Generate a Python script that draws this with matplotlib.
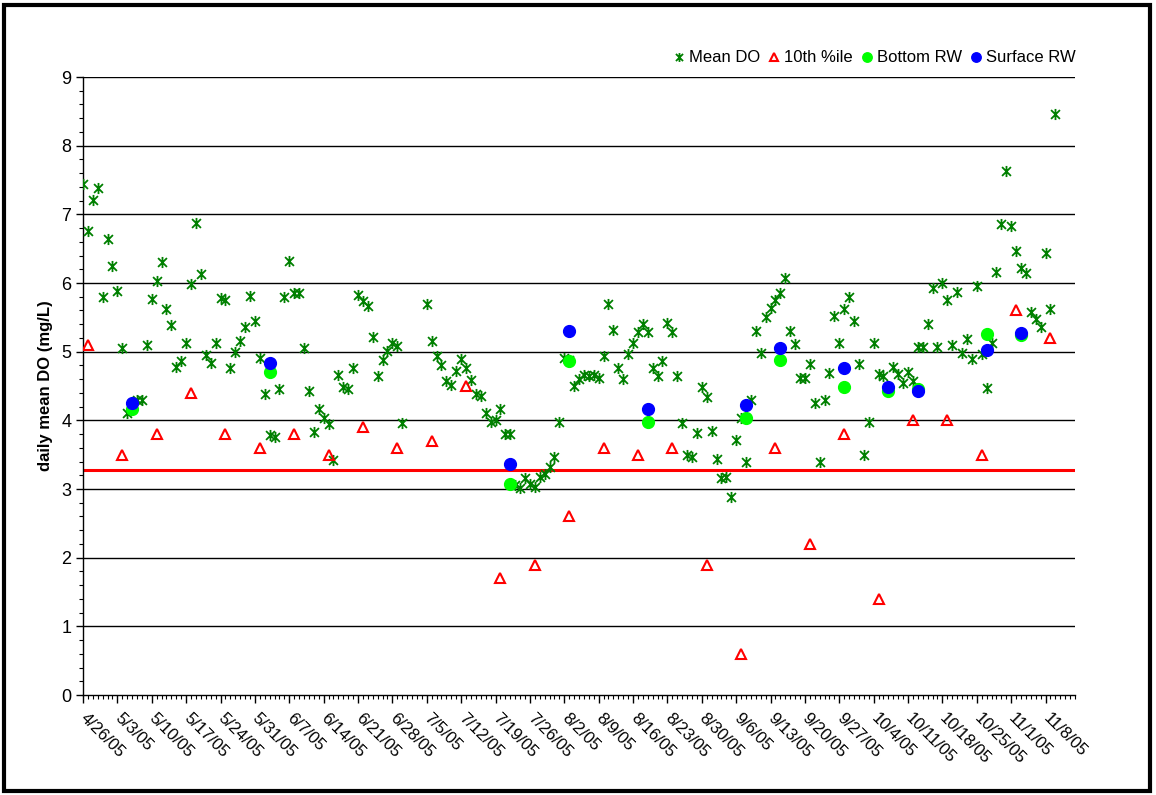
import matplotlib
matplotlib.use("Agg")
import matplotlib.pyplot as plt
import matplotlib.dates as mdates
from matplotlib.path import Path
from matplotlib.patches import Rectangle
from matplotlib.ticker import MultipleLocator
import pandas as pd

plt.rcParams['font.family'] = ['Liberation Sans', 'DejaVu Sans']

# daily mean DO, one value per day starting 4/26/05 (None = no data)
start_date = "2005-04-26"
mean_do = [
    7.44, 6.76, 7.21, 7.39, 5.80, 6.64, 6.25, 5.88, 5.06, 4.11,
    None, 4.30, 4.29, 5.09, 5.76, 6.03, 6.30, 5.62, 5.39, 4.78,
    4.86, 5.12, 5.98, 6.88, 6.13, 4.95, 4.83, 5.13, 5.78, 5.75,
    4.76, 4.99, 5.15, 5.36, 5.81, 5.44, 4.91, 4.39, 3.79, 3.76,
    4.46, 5.79, 6.32, 5.86, 5.86, 5.06, 4.42, 3.83, 4.17, 4.04,
    3.95, 3.42, 4.66, 4.49, 4.46, 4.76, 5.83, 5.74, 5.67, 5.21,
    4.64, 4.88, 5.01, 5.12, 5.08, 3.96, None, None, None, None,
    5.69, 5.16, 4.94, 4.80, 4.57, 4.52, 4.72, 4.89, 4.76, 4.59,
    4.39, 4.35, 4.10, 3.98, 4.00, 4.16, 3.80, 3.80, 3.06, 3.01,
    3.16, 3.07, 3.03, 3.18, 3.22, 3.32, 3.47, 3.97, 4.91, 4.88,
    4.50, 4.60, 4.66, 4.64, 4.66, 4.62, 4.93, 5.70, 5.31, 4.76,
    4.60, 4.96, 5.12, 5.28, 5.41, 5.28, 4.76, 4.65, 4.87, 5.42,
    5.29, 4.65, 3.96, 3.49, 3.47, 3.82, 4.49, 4.34, 3.84, 3.43,
    3.16, 3.18, 2.89, 3.71, 4.04, 3.40, 4.30, 5.30, 4.98, 5.51,
    5.64, 5.75, 5.86, 6.08, 5.30, 5.11, 4.61, 4.61, 4.82, 4.25,
    3.39, 4.30, 4.69, 5.52, 5.12, 5.62, 5.79, 5.44, 4.82, 3.50,
    3.97, 5.12, 4.67, 4.65, 4.46, 4.78, 4.67, 4.55, 4.70, 4.57,
    5.07, 5.07, 5.40, 5.92, 5.07, 6.00, 5.75, 5.10, 5.87, 4.98,
    5.18, 4.90, 5.96, 4.97, 4.47, 5.13, 6.16, 6.86, 7.63, 6.83,
    6.46, 6.22, 6.14, 5.58, 5.47, 5.36, 6.43, 5.62, 8.46,
]

pct10_dates = [
    "4/27/05", "5/4/05", "5/11/05", "5/18/05", "5/25/05", "6/1/05", "6/8/05",
    "6/15/05", "6/22/05", "6/29/05", "7/6/05", "7/13/05", "7/20/05", "7/27/05",
    "8/3/05", "8/10/05", "8/17/05", "8/24/05", "8/31/05", "9/7/05", "9/14/05",
    "9/21/05", "9/28/05", "10/5/05", "10/12/05", "10/19/05", "10/26/05",
    "11/2/05", "11/9/05",
]
pct10 = [5.1, 3.5, 3.8, 4.4, 3.8, 3.6, 3.8, 3.5, 3.9, 3.6, 3.7, 4.5, 1.7, 1.9,
         2.6, 3.6, 3.5, 3.6, 1.9, 0.6, 3.6, 2.2, 3.8, 1.4, 4.0, 4.0, 3.5, 5.6, 5.2]

rw_dates = ["5/6/05", "6/3/05", "7/22/05", "8/3/05", "8/19/05", "9/8/05",
            "9/15/05", "9/28/05", "10/7/05", "10/13/05", "10/27/05", "11/3/05"]
bottom_rw = [4.16, 4.70, 3.07, 4.86, 3.97, 4.04, 4.88, 4.49, 4.43, 4.45, 5.26, 5.25]
surface_rw = [4.25, 4.84, 3.36, 5.30, 4.17, 4.23, 5.05, 4.76, 4.48, 4.43, 5.02, 5.27]

threshold = 3.27

tick_labels = [
    "4/26/05", "5/3/05", "5/10/05", "5/17/05", "5/24/05", "5/31/05", "6/7/05",
    "6/14/05", "6/21/05", "6/28/05", "7/5/05", "7/12/05", "7/19/05", "7/26/05",
    "8/2/05", "8/9/05", "8/16/05", "8/23/05", "8/30/05", "9/6/05", "9/13/05",
    "9/20/05", "9/27/05", "10/4/05", "10/11/05", "10/18/05", "10/25/05",
    "11/1/05", "11/8/05",
]

mean_days = pd.date_range(start_date, periods=len(mean_do), freq="D")
mean_series = pd.Series(mean_do, index=mean_days, dtype=float).dropna()
pct_x = pd.to_datetime(pct10_dates, format="%m/%d/%y")
rw_x = pd.to_datetime(rw_dates, format="%m/%d/%y")
tick_x = pd.to_datetime(tick_labels, format="%m/%d/%y")

# Excel-style star marker: an X crossed by a vertical bar
star = Path([(-1, -1), (1, 1), (-1, 1), (1, -1), (0, -1.25), (0, 1.25)],
            [Path.MOVETO, Path.LINETO, Path.MOVETO, Path.LINETO,
             Path.MOVETO, Path.LINETO])

fig = plt.figure(figsize=(11.56, 7.95), dpi=100)
ax = fig.add_axes([83 / 1156, 1 - 695 / 795, (1075 - 83) / 1156, (695 - 77) / 795])

for v in range(1, 10):
    ax.axhline(v, color="black", lw=1.0, zorder=1)
ax.axhline(threshold, color="red", lw=2.2, zorder=2)

ax.plot(mean_series.index, mean_series.values, linestyle="none", marker=star,
        markersize=8, mec="#008000", mfc="none", mew=1.3, label="Mean DO", zorder=3)
ax.plot(pct_x, pct10, linestyle="none", marker="^", markersize=7.5,
        mec="red", mfc="none", mew=1.5, label="10th %ile", zorder=3)
ax.plot(rw_x, bottom_rw, linestyle="none", marker="o", markersize=8.5,
        mec="#00FF00", mfc="#00FF00", label="Bottom RW", zorder=4)
ax.plot(rw_x, surface_rw, linestyle="none", marker="o", markersize=8.5,
        mec="#0000FF", mfc="#0000FF", label="Surface RW", zorder=5)

ax.set_ylim(0, 9)
ax.set_xlim(pd.Timestamp("2005-04-26"), pd.Timestamp("2005-04-26") + pd.Timedelta(days=202))
ax.yaxis.set_major_locator(MultipleLocator(1))
ax.yaxis.set_minor_locator(MultipleLocator(0.2))
ax.set_xticks(tick_x)
ax.set_xticklabels(tick_labels, rotation=-45, ha="left", va="center",
                   rotation_mode="anchor", fontsize=12)
ax.xaxis.set_minor_locator(mdates.DayLocator())
ax.tick_params(axis="x", which="major", length=6, width=1, direction="out", pad=9)
ax.tick_params(axis="x", which="minor", length=3, width=0.8, direction="out")
ax.tick_params(axis="y", which="major", length=5, width=1, direction="out", labelsize=13)
ax.tick_params(axis="y", which="minor", length=3, width=0.8, direction="out")

for side in ("top", "right"):
    ax.spines[side].set_visible(False)
ax.spines["left"].set_linewidth(1)
ax.spines["bottom"].set_linewidth(1)

ax.set_ylabel("daily mean DO (mg/L)", fontsize=12, fontweight="bold", labelpad=6)

ax.legend(loc="lower right", bbox_to_anchor=(1.013, 1.0), ncol=4, frameon=False,
          fontsize=12, handlelength=0.6, handletextpad=0.3, columnspacing=0.55,
          borderaxespad=0.3, markerscale=0.8)

fig.patches.append(Rectangle((4 / 1156, 4 / 795), 1146 / 1156, 786 / 795,
                             transform=fig.transFigure, fill=False,
                             edgecolor="black", lw=3))

fig.savefig("out.png", dpi=100)
